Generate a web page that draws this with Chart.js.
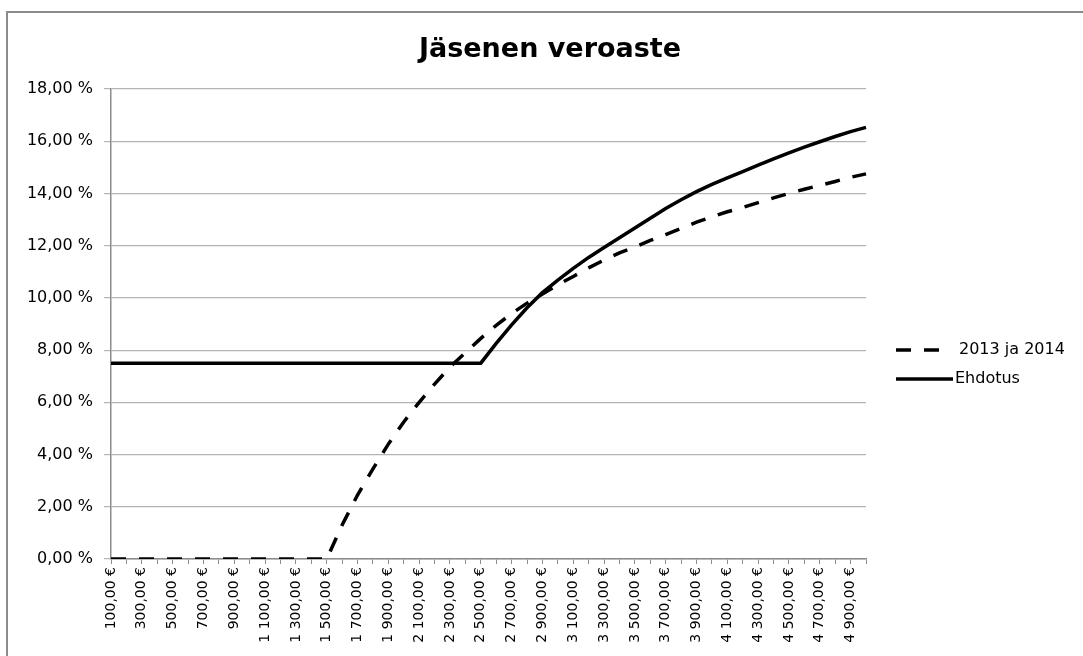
<!DOCTYPE html>
<html>
<head>
<meta charset="utf-8">
<script src="https://cdn.jsdelivr.net/npm/chart.js@4.4.1/dist/chart.umd.min.js"></script>
<style>
html, body { margin: 0; padding: 0; background: #fff; overflow: hidden; }
#frame { position: absolute; left: 6px; top: 11px; width: 1100px; height: 700px; border: 2px solid #8c8c8c; }
#wrap { position: absolute; left: 0; top: 0; width: 1083px; height: 680px; }
</style>
</head>
<body>
<div id="frame"></div>
<div id="wrap"><canvas id="myChart"></canvas></div>
<script>
//data
let otsikko = 'Jäsenen veroaste';
let tulot = [100, 200, 300, 400, 500, 600, 700, 800, 900, 1000,
    1100, 1200, 1300, 1400, 1500, 1600, 1700, 1800, 1900, 2000,
    2100, 2200, 2300, 2400, 2500, 2600, 2700, 2800, 2900, 3000,
    3100, 3200, 3300, 3400, 3500, 3600, 3700, 3800, 3900, 4000,
    4100, 4200, 4300, 4400, 4500, 4600, 4700, 4800, 4900, 5000];
// veroaste %, 2013 ja 2014
let vero2013 = [0, 0, 0, 0, 0, 0, 0, 0, 0, 0,
    0, 0, 0, 0, 0, 1.3, 2.45, 3.45, 4.4, 5.25,
    6.0, 6.7, 7.35, 7.9, 8.45, 8.95, 9.4, 9.8, 10.15, 10.5,
    10.82, 11.15, 11.45, 11.72, 11.95, 12.2, 12.42, 12.66, 12.9, 13.1,
    13.3, 13.46, 13.65, 13.83, 14.0, 14.16, 14.31, 14.46, 14.62, 14.75];
// veroaste %, ehdotus
let ehdotus = [7.5, 7.5, 7.5, 7.5, 7.5, 7.5, 7.5, 7.5, 7.5, 7.5,
    7.5, 7.5, 7.5, 7.5, 7.5, 7.5, 7.5, 7.5, 7.5, 7.5,
    7.5, 7.5, 7.5, 7.5, 7.5, 8.26, 8.97, 9.62, 10.2, 10.68,
    11.13, 11.55, 11.93, 12.3, 12.68, 13.05, 13.42, 13.76, 14.07, 14.35,
    14.6, 14.84, 15.08, 15.32, 15.55, 15.77, 15.98, 16.18, 16.37, 16.53];
let yMin = 0;
let yMax = 18;
let yStep = 2;

function euro(v) {
    let s = String(v);
    if (v >= 1000) s = s.slice(0, -3) + ' ' + s.slice(-3);
    return s + ',00 €';
}

// title + legend drawn at fixed spots like the excel original
let sideText = {
    id: 'sideText',
    afterDraw: function (chart) {
        let c = chart.ctx;
        c.save();
        c.fillStyle = '#000';
        c.textBaseline = 'middle';
        c.textAlign = 'center';
        c.font = 'bold 27px "DejaVu Sans"';
        c.fillText(otsikko, 550, 50);
        c.textAlign = 'left';
        c.font = '16px "DejaVu Sans"';
        chart.data.datasets.forEach(function (ds, i) {
            let y = 350 + i * 29;
            c.strokeStyle = ds.borderColor;
            c.lineWidth = ds.borderWidth;
            c.setLineDash(ds.borderDash || []);
            c.beginPath();
            c.moveTo(896, y);
            c.lineTo(ds.borderDash ? 942 : 953, y);
            c.stroke();
            c.fillText(ds.label, ds.borderDash ? 959 : 955, y);
        });
        c.restore();
    }
};

let ctx = document.getElementById('myChart').getContext('2d');
let chart = new Chart(ctx, {
    type: 'line',
    data: {
        labels: tulot.map(euro),
        datasets: [{
            label: '2013 ja 2014',
            data: vero2013,
            borderColor: '#000',
            borderWidth: 3.5,
            borderDash: [15, 13],
            pointRadius: 0,
            tension: 0
        }, {
            label: 'Ehdotus',
            data: ehdotus,
            borderColor: '#000',
            borderWidth: 3.5,
            pointRadius: 0,
            tension: 0
        }]
    },
    options: {
        responsive: true,
        maintainAspectRatio: false,
        animation: false,
        layout: { padding: { left: 0, right: 217, top: 89, bottom: 0 } },
        plugins: {
            legend: { display: false },
            title: { display: false },
            tooltip: { enabled: false }
        },
        scales: {
            x: {
                offset: false,
                grid: { drawOnChartArea: false, drawTicks: true, tickLength: 5, color: '#8c8c8c' },
                border: { color: '#8c8c8c', width: 1.5 },
                ticks: {
                    autoSkip: false,
                    minRotation: 90,
                    maxRotation: 90,
                    padding: 3,
                    color: '#000',
                    font: { family: 'DejaVu Sans', size: 14 },
                    callback: function (v, i) {
                        return i % 2 === 0 ? this.getLabelForValue(v) : '';
                    }
                },
                afterFit: function (s) { s.height = 121; }
            },
            y: {
                min: yMin,
                max: yMax,
                grid: { color: '#b4b4b4', tickLength: 7, lineWidth: 1.2 },
                border: { color: '#8c8c8c', width: 1.5 },
                ticks: {
                    stepSize: yStep,
                    padding: 11,
                    color: '#000',
                    font: { family: 'DejaVu Sans', size: 16 },
                    callback: function (v) { return v.toFixed(2).replace('.', ',') + ' %'; }
                },
                afterFit: function (s) { s.width = 111; }
            }
        }
    },
    plugins: [sideText]
});
</script>
</body>
</html>
